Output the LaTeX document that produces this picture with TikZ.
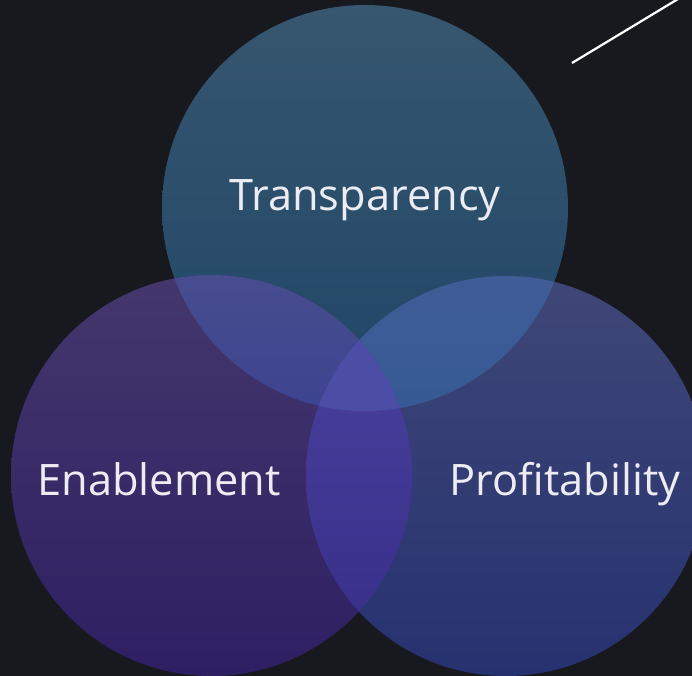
\documentclass[tikz,border=0pt]{standalone}
\usepackage{fontspec}
\setmainfont{Open Sans}
\usetikzlibrary{positioning}

\definecolor{bgdark}{HTML}{18181F}
\definecolor{txtlight}{HTML}{ECECF2}
\definecolor{transTop}{HTML}{37566F}
\definecolor{transBot}{HTML}{1F4667}
\definecolor{enabTop}{HTML}{44376C}
\definecolor{enabBot}{HTML}{2E1F63}
\definecolor{profTop}{HTML}{3F4777}
\definecolor{profBot}{HTML}{263270}

\begin{document}
\begin{tikzpicture}[x=0.03cm, y=-0.03cm,
                    circlabel/.style={text=txtlight, font=\fontsize{37}{42}\selectfont, anchor=base, inner sep=0pt}]

    \fill[bgdark] (0,0) rectangle (692,676);
    \useasboundingbox (0,0) rectangle (692,676);
    \clip (0,0) rectangle (692,676);

    \coordinate (cT) at (365,208);
    \coordinate (cE) at (211.5,475.5);
    \coordinate (cP) at (506,476);

    % the three sets
    \shade[top color=transTop, bottom color=transBot] (cT) circle (203);
    \shade[top color=enabTop, bottom color=enabBot] (cE) circle (200.5);
    \shade[top color=profTop, bottom color=profBot] (cP) circle (200);

    % pairwise overlaps
    \begin{scope}
        \clip (cT) circle (203);
        \clip (cE) circle (200.5);
        \shade[top color={rgb,255:red,71;green,77;blue,141}, bottom color={rgb,255:red,61;green,68;blue,144}] (0,270) rectangle (692,412);
    \end{scope}
    \begin{scope}
        \clip (cT) circle (203);
        \clip (cP) circle (200);
        \shade[top color={rgb,255:red,63;green,93;blue,151}, bottom color={rgb,255:red,55;green,90;blue,148}] (0,270) rectangle (692,412);
    \end{scope}
    \begin{scope}
        \clip (cE) circle (200.5);
        \clip (cP) circle (200);
        \shade[top color={rgb,255:red,72;green,64;blue,156}, bottom color={rgb,255:red,57;green,48;blue,140}] (0,335) rectangle (692,615);
    \end{scope}

    % middle
    \begin{scope}
        \clip (cT) circle (203);
        \clip (cE) circle (200.5);
        \clip (cP) circle (200);
        \fill[fill={rgb,255:red,76;green,78;blue,165}] (0,330) rectangle (692,415);
    \end{scope}

    \node[circlabel] (trans) at (365,210.5) {Transparency};
    \node[circlabel] (enab) at (159,495.5) {Enablement};
    \node[circlabel] (prof) at (565,495.5) {Profitability};

    \coordinate (lnA) at (572,63);
    \coordinate (lnB) at (678,-1);
    \draw[white, line width=1.9pt] (lnA) -- (lnB);
\end{tikzpicture}
\end{document}
